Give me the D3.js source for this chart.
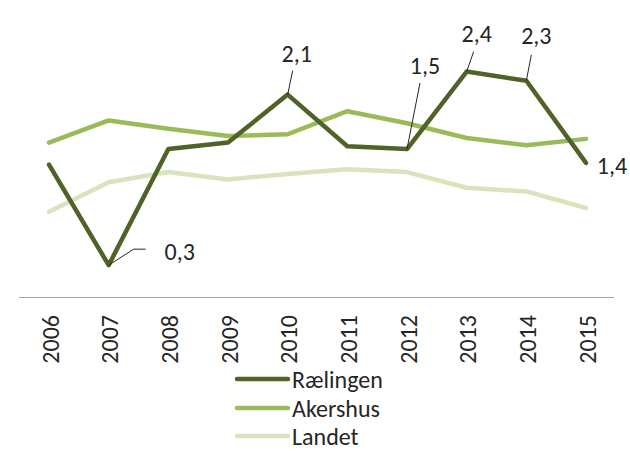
<!DOCTYPE html>
<html>
<head>
<meta charset="utf-8">
<script src="https://cdn.jsdelivr.net/npm/d3@7"></script>
<style>
  html, body { margin: 0; padding: 0; background: #fff; }
  svg { display: block; }
  text { font-family: Carlito, "Open Sans", "Noto Sans", sans-serif; fill: #262626; }
</style>
</head>
<body>
<div id="chart"></div>
<script>
// ---- data ----
const years = ["2006","2007","2008","2009","2010","2011","2012","2013","2014","2015"];
const raelingen = [1.37, 0.28, 1.54, 1.61, 2.13, 1.57, 1.54, 2.38, 2.28, 1.39];
const akershus  = [1.61, 1.85, 1.76, 1.68, 1.70, 1.95, 1.82, 1.66, 1.58, 1.65];
const landet    = [0.86, 1.18, 1.29, 1.21, 1.27, 1.32, 1.29, 1.12, 1.08, 0.90];
const seriesNames = ["Rælingen", "Akershus", "Landet"];
const labelTexts = ["", "0,3", "", "", "2,1", "", "1,5", "2,4", "2,3", "1,4"];

// ---- layout / style ----
const W = 630, H = 451;
const colors = ["#4f6228", "#9bbb59", "#d7e4bd"];
const fontSize = 24;

const svg = d3.select("#chart").append("svg").attr("width", W).attr("height", H);

const x = d3.scalePoint().domain(years).range([49, 586]);
const y = d3.scaleLinear().domain([0, 3]).range([291, 14.4]);

// axis baseline
svg.append("line")
  .attr("x1", 19).attr("x2", 614).attr("y1", 297.5).attr("y2", 297.5)
  .attr("stroke", "#a6a6a6").attr("stroke-width", 1);

// year labels (rotated)
svg.selectAll("text.year").data(years).enter().append("text")
  .attr("class", "year")
  .attr("transform", d => `translate(${x(d) + 1},315) rotate(-90)`)
  .attr("text-anchor", "end")
  .attr("dominant-baseline", "central")
  .style("font-size", fontSize + "px")
  .text(d => d);

// lines (draw lightest first)
const allSeries = [raelingen, akershus, landet];
const line = d3.line().x((d, i) => x(years[i])).y(d => y(d));
[2, 1, 0].forEach(k => {
  svg.append("path")
    .datum(allSeries[k])
    .attr("d", line)
    .attr("fill", "none")
    .attr("stroke", colors[k])
    .attr("stroke-width", 4.5)
    .attr("stroke-linejoin", "round")
    .attr("stroke-linecap", "round");
});

// data labels for Rælingen with leader lines (offsets relative to point)
const labelPlacement = {
  1: { dx: 71, dy: -14, leader: [[25, -16], [37, -16]] },
  4: { dx: 9,  dy: -41, leader: [[5, -24]] },
  6: { dx: 18, dy: -84, leader: [[13, -66]] },
  7: { dx: 10, dy: -38, leader: [[7, -20]] },
  8: { dx: 10, dy: -45, leader: [[5, -26]] },
  9: { dx: 26, dy: 3,   leader: null }
};
raelingen.forEach((v, i) => {
  const p = labelPlacement[i];
  if (!p || !labelTexts[i]) return;
  const px = x(years[i]), py = y(v);
  if (p.leader) {
    const pts = [[px, py]].concat(p.leader.map(o => [px + o[0], py + o[1]]));
    svg.append("path")
      .attr("d", d3.line()(pts))
      .attr("fill", "none").attr("stroke", "#262626").attr("stroke-width", 1);
  }
  svg.append("text")
    .attr("x", px + p.dx).attr("y", py + p.dy)
    .attr("text-anchor", "middle")
    .attr("dominant-baseline", "central")
    .style("font-size", fontSize + "px")
    .text(labelTexts[i]);
});

// legend
const legendY = [379, 408, 436];
seriesNames.forEach((name, k) => {
  svg.append("line")
    .attr("x1", 237).attr("x2", 288)
    .attr("y1", legendY[k]).attr("y2", legendY[k])
    .attr("stroke", colors[k]).attr("stroke-width", 4.5)
    .attr("stroke-linecap", "round");
  svg.append("text")
    .attr("x", 292).attr("y", legendY[k])
    .attr("dominant-baseline", "central")
    .style("font-size", fontSize + "px")
    .text(name);
});
</script>
</body>
</html>
